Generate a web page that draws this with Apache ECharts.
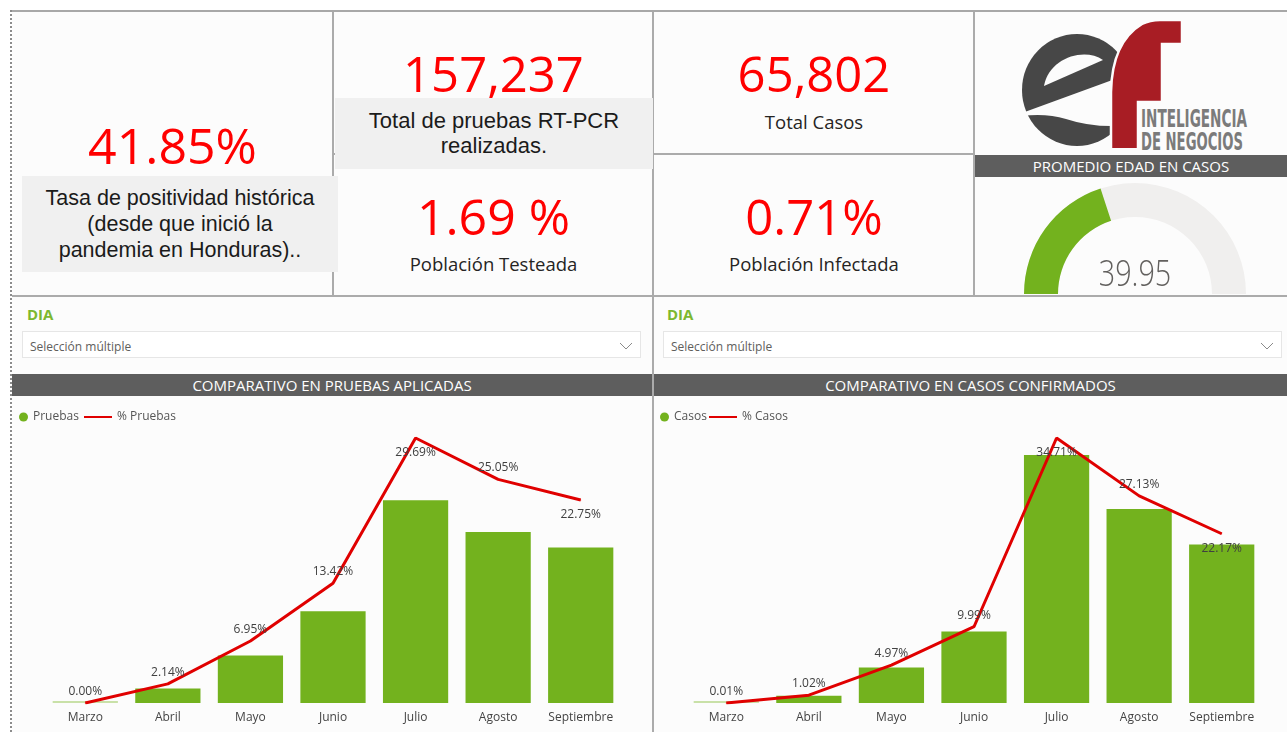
<!DOCTYPE html>
<html>
<head>
<meta charset="utf-8">
<script src="https://cdn.jsdelivr.net/npm/echarts@6/dist/echarts.min.js"></script>
<style>
  html, body { margin:0; padding:0; width:1287px; height:732px; overflow:hidden; background:#ffffff; }
  .abs { position:absolute; }
  .t { position:absolute; white-space:nowrap; text-align:center; font-family:'Open Sans','Noto Sans',sans-serif; }
  .big { color:#ff0000; font-size:50px; line-height:50px; }
  .sub { color:#252423; font-size:18.5px; line-height:18px; }
  .box { position:absolute; background:#f0f0f0; text-align:center; font-family:'Liberation Sans',Arial,sans-serif; color:#1b1b1b; box-sizing:border-box; white-space:nowrap; }
  .hdr { position:absolute; background:#5e5e5e; color:#ffffff; text-align:center; font-family:'Open Sans','Noto Sans',sans-serif; font-size:15px; line-height:22px; height:22px; }
  .dia { position:absolute; color:#7cb82f; font-family:'Open Sans','Noto Sans',sans-serif; font-weight:bold; font-size:15px; line-height:16px; }
  .dd { position:absolute; background:#ffffff; border:1px solid #e6e6e6; box-sizing:border-box; height:27px; font-family:'Open Sans','Noto Sans',sans-serif; font-size:12px; color:#605e5c; line-height:29px; padding-left:7px; }
  .sep { position:absolute; background:#ababab; }
</style>
</head>
<body>
<script>
// ---------------- data ----------------
const months = ['Marzo', 'Abril', 'Mayo', 'Junio', 'Julio', 'Agosto', 'Septiembre'];
const pruebas = [3, 3365, 10928, 21101, 46684, 39388, 35768];
const pctPruebas = [0.00, 2.14, 6.95, 13.42, 29.69, 25.05, 22.75];
const casos = [7, 671, 3270, 6574, 22840, 17852, 14588];
const pctCasos = [0.01, 1.02, 4.97, 9.99, 34.71, 27.13, 22.17];
const tasaPositividad = '41.85%';
const totalPruebas = '157,237';
const totalCasos = '65,802';
const poblacionTesteada = '1.69 %';
const poblacionInfectada = '0.71%';
const edadPromedio = 39.95;
</script>

<!-- page frame -->
<div class="abs" style="left:12px;top:12px;width:1275px;height:720px;background:#fcfcfc;"></div>
<div class="abs" style="left:10px;top:10px;width:1277px;height:2px;background:#a8a8a8;"></div>
<div class="abs" style="left:10px;top:10px;width:0;height:722px;border-left:2px dotted #8c8c8c;"></div>

<!-- separators -->
<div class="sep" style="left:332px;top:12px;width:2px;height:284px;"></div>
<div class="sep" style="left:652px;top:12px;width:2px;height:720px;"></div>
<div class="sep" style="left:973px;top:12px;width:2px;height:284px;"></div>
<div class="sep" style="left:12px;top:295px;width:1275px;height:2px;"></div>
<div class="sep" style="left:333px;top:153px;width:642px;height:2px;"></div>

<!-- card 1 -->
<div class="t big" id="kpi1" style="left:12px;width:321px;top:120px;"></div>
<div class="box" style="left:22px;top:176px;width:316px;height:96px;padding-top:9px;line-height:26px;font-size:21.5px;">Tasa de positividad histórica<br>(desde que inició la<br>pandemia en Honduras)..</div>

<!-- card 2 -->
<div class="t big" id="kpi2" style="left:334px;width:319px;top:49px;font-size:49px;line-height:49px;"></div>
<div class="box" style="left:335px;top:98px;width:318px;height:71px;padding-top:10px;line-height:25px;font-size:22px;">Total de pruebas RT-PCR<br>realizadas.</div>
<div class="t big" id="kpi3" style="left:334px;width:319px;top:191px;"></div>
<div class="t sub" style="left:334px;width:319px;top:255px;">Población Testeada</div>

<!-- card 3 -->
<div class="t big" id="kpi4" style="left:654px;width:320px;top:49px;font-size:49px;line-height:49px;"></div>
<div class="t sub" style="left:654px;width:320px;top:113px;">Total Casos</div>
<div class="t big" id="kpi5" style="left:654px;width:320px;top:191px;font-size:49px;line-height:50px;"></div>
<div class="t sub" style="left:654px;width:320px;top:255px;">Población Infectada</div>

<!-- card 4: logo -->
<svg class="abs" style="left:975px;top:12px;" width="312" height="142" viewBox="975 12 312 142">
  <ellipse cx="1077" cy="90" rx="55" ry="56" fill="#474747"/>
  <path d="M1044,86 C1049,58 1084,47 1103,60 Z" fill="#fcfcfc"/>
  <path d="M1022,113 L1137,71 L1137,128 L1118,126 Q1090,127 1066,119 Q1046,113 1022,116 Z" fill="#fcfcfc"/>
  <path d="M1111,150 L1111,92 Q1112,42 1142,24 Q1150,20 1160,20 L1182,20 L1182,44 L1162,44 L1162,102 L1138,102 L1138,150 Z" fill="#a81d24" stroke="#fcfcfc" stroke-width="2.5"/>
  <rect x="1100" y="148" width="50" height="6" fill="#fcfcfc"/>
  <text x="1141" y="127" font-family="'Liberation Sans Narrow','DejaVu Sans Condensed',sans-serif" font-weight="bold" font-size="25" fill="#7b7b7b" textLength="106" lengthAdjust="spacingAndGlyphs">INTELIGENCIA</text>
  <text x="1141" y="150" font-family="'Liberation Sans Narrow','DejaVu Sans Condensed',sans-serif" font-weight="bold" font-size="25" fill="#7b7b7b" textLength="102" lengthAdjust="spacingAndGlyphs">DE NEGOCIOS</text>
</svg>
<div class="hdr" style="left:975px;top:155px;width:312px;">PROMEDIO EDAD EN CASOS</div>
<div id="gauge" class="abs" style="left:975px;top:177px;width:312px;height:118px;"></div>

<!-- slicers -->
<div class="dia" style="left:27px;top:306px;">DIA</div>
<div class="dd" style="left:22px;top:331px;width:619px;">Selección múltiple
  <svg class="abs" style="right:7px;top:10px;" width="14" height="8"><polyline points="1,1 7,7 13,1" fill="none" stroke="#8a8a8a" stroke-width="1"/></svg>
</div>
<div class="dia" style="left:667px;top:306px;">DIA</div>
<div class="dd" style="left:663px;top:331px;width:619px;">Selección múltiple
  <svg class="abs" style="right:7px;top:10px;" width="14" height="8"><polyline points="1,1 7,7 13,1" fill="none" stroke="#8a8a8a" stroke-width="1"/></svg>
</div>

<!-- chart headers -->
<div class="hdr" style="left:12px;top:374px;width:640px;">COMPARATIVO EN PRUEBAS APLICADAS</div>
<div class="hdr" style="left:654px;top:374px;width:633px;">COMPARATIVO EN CASOS CONFIRMADOS</div>

<div id="chartL" class="abs" style="left:12px;top:397px;width:640px;height:335px;"></div>
<div id="chartR" class="abs" style="left:654px;top:397px;width:633px;height:335px;"></div>

<script>
document.getElementById('kpi1').textContent = tasaPositividad;
document.getElementById('kpi2').textContent = totalPruebas;
document.getElementById('kpi3').textContent = poblacionTesteada;
document.getElementById('kpi4').textContent = totalCasos;
document.getElementById('kpi5').textContent = poblacionInfectada;

const FONT = "'Open Sans','Noto Sans',sans-serif";
const GREEN = '#73b21e';
const PALE = '#c9e1a8';
const RED = '#e00000';
const labelBelow = ['Julio', 'Septiembre'];

function comboOption(barName, lineName, barData, pctData, barMax, gridLeft, gridRight, lineLegendLeft, dotLeft) {
  return {
    animation: false,
    textStyle: { fontFamily: FONT },
    legend: [
      { data: [{ name: barName, icon: 'circle' }], left: dotLeft, top: 14, padding: 0, itemWidth: 9, itemHeight: 9,
        textStyle: { fontSize: 12, color: '#555', fontFamily: FONT } },
      { data: [{ name: lineName, icon: 'rect' }], left: lineLegendLeft, top: 14, padding: 0, itemWidth: 28, itemHeight: 2,
        textStyle: { fontSize: 12, color: '#555', fontFamily: FONT } }
    ],
    grid: { left: gridLeft, right: gridRight, top: 41, bottom: 29 },
    xAxis: {
      type: 'category', data: months,
      axisLine: { show: false }, axisTick: { show: false },
      axisLabel: { fontSize: 12, color: '#444', margin: 9, fontFamily: FONT, interval: 0 }
    },
    yAxis: [
      { type: 'value', min: 0, max: barMax, show: false },
      { type: 'value', min: 0, max: Math.max(...pctData), show: false }
    ],
    series: [
      {
        name: barName, type: 'bar', barCategoryGap: '21%', barMinHeight: 2,
        itemStyle: { color: GREEN },
        data: barData.map((v, i) => i === 0 ? { value: v, itemStyle: { color: PALE } } : v)
      },
      {
        name: lineName, type: 'line', yAxisIndex: 1,
        symbol: 'circle', symbolSize: 1, z: 5,
        lineStyle: { color: RED, width: 3 }, itemStyle: { color: RED },
        label: { show: true, fontSize: 12, color: '#404040', fontFamily: FONT,
                 formatter: p => p.value.toFixed(2) + '%' },
        data: pctData.map((v, i) => ({
          value: v,
          label: labelBelow.includes(months[i]) ? { position: 'bottom', distance: 8 } : { position: 'top', distance: 5 }
        }))
      }
    ]
  };
}

echarts.init(document.getElementById('chartL')).setOption(
  comboOption('Pruebas', '% Pruebas', pruebas, pctPruebas, 61000, 32, 30, 72, 7));
echarts.init(document.getElementById('chartR')).setOption(
  comboOption('Casos', '% Casos', casos, pctCasos, 24400, 31, 24, 55, 6));

echarts.init(document.getElementById('gauge')).setOption({
  animation: false,
  graphic: [{
    type: 'text', x: 160, y: 99, scaleX: 0.8, z: 10,
    style: { text: edadPromedio.toFixed(2), fontSize: 36, fontFamily: FONT, fontWeight: 300,
             fill: '#62605e', align: 'center', verticalAlign: 'middle' }
  }],
  series: [{
    type: 'gauge', startAngle: 180, endAngle: 0, min: 0, max: 100,
    center: [160, 117], radius: 111,
    axisLine: { lineStyle: { width: 34, color: [[1, '#f0efee']] } },
    progress: { show: true, width: 34, itemStyle: { color: GREEN } },
    pointer: { show: false }, axisTick: { show: false }, splitLine: { show: false },
    axisLabel: { show: false }, anchor: { show: false }, title: { show: false },
    detail: { show: false },
    data: [{ value: edadPromedio }]
  }]
});
</script>
</body>
</html>
